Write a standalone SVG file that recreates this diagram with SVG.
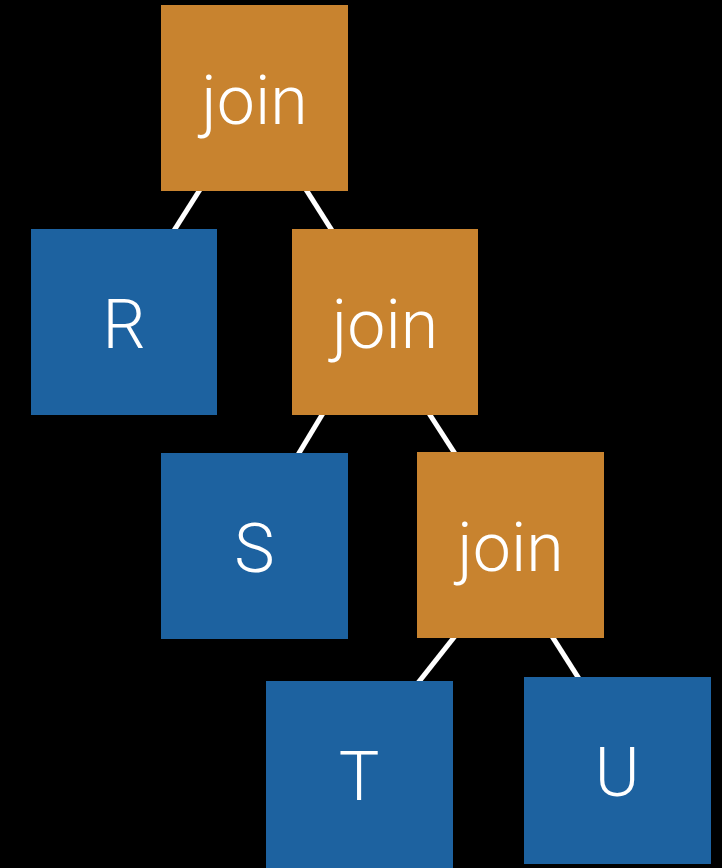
<svg xmlns="http://www.w3.org/2000/svg" width="722" height="868" viewBox="0 0 722 868">
  <style>
    .op { fill: #C8832F; }
    .rel { fill: #1D62A0; }
    .lbl { fill: #FFFFFF; font-family: Roboto, "Open Sans", "Liberation Sans", sans-serif; font-weight: 300; font-size: 68px; text-anchor: middle; }
    .edge { stroke: #FFFFFF; stroke-width: 5; fill: none; }
  </style>
  <rect width="722" height="868" fill="#000000"/>
  <!-- tree edges, drawn first so the boxes cover their ends -->
  <g id="connectors">
    <line class="edge" x1="258" y1="98" x2="116" y2="322"/>
    <line class="edge" x1="248" y1="98" x2="390" y2="322"/>
    <line class="edge" x1="378" y1="322" x2="243" y2="546"/>
    <line class="edge" x1="370" y1="322" x2="514" y2="545"/>
    <line class="edge" x1="527" y1="545" x2="346" y2="774"/>
    <line class="edge" x1="494" y1="545" x2="637" y2="770"/>
  </g>
  <g id="join1">
    <rect class="op" x="161" y="5" width="187" height="186"/>
    <text class="lbl" x="254.5" y="124">join</text>
  </g>
  <g id="R">
    <rect class="rel" x="31" y="229" width="186" height="186"/>
    <text class="lbl" x="124" y="348">R</text>
  </g>
  <g id="join2">
    <rect class="op" x="292" y="229" width="186" height="186"/>
    <text class="lbl" x="385" y="348">join</text>
  </g>
  <g id="S">
    <rect class="rel" x="161" y="453" width="187" height="186"/>
    <text class="lbl" x="254.5" y="572">S</text>
  </g>
  <g id="join3">
    <rect class="op" x="417" y="452" width="187" height="186"/>
    <text class="lbl" x="510.5" y="571">join</text>
  </g>
  <g id="T">
    <rect class="rel" x="266" y="681" width="187" height="190"/>
    <text class="lbl" x="359" y="800">T</text>
  </g>
  <g id="U">
    <rect class="rel" x="524" y="677" width="187" height="187"/>
    <text class="lbl" x="617" y="796">U</text>
  </g>
</svg>
